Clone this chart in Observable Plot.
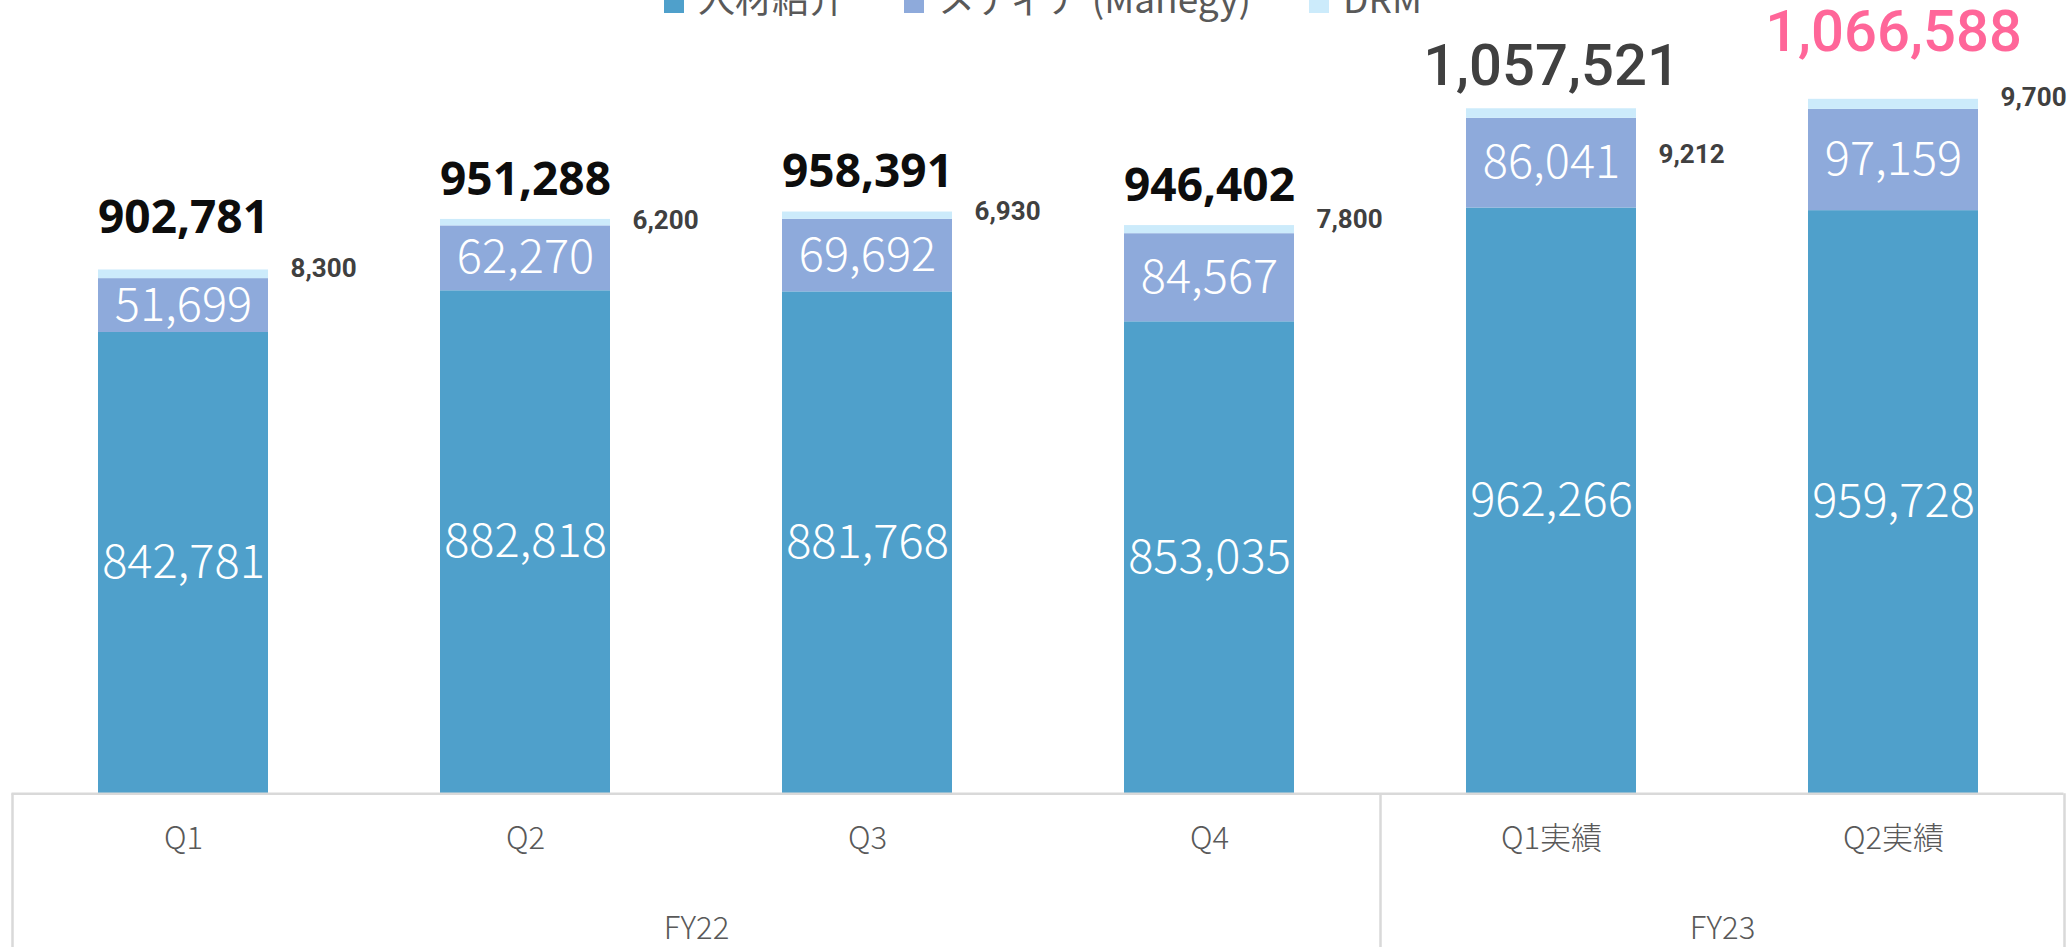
<!DOCTYPE html>
<html><head><meta charset="utf-8">
<script src="https://cdn.jsdelivr.net/npm/d3@7"></script>
<script src="https://cdn.jsdelivr.net/npm/@observablehq/plot@0.6"></script>
<style>
html,body{margin:0;padding:0;background:#fff;overflow:hidden;}
#wrap{position:relative;width:2067px;height:947px;}
#chart{position:absolute;left:0;top:0;}
#legend{position:absolute;left:664px;top:-23px;display:flex;font-family:"Noto Sans CJK JP";font-size:37px;line-height:40px;color:#595959;white-space:nowrap;z-index:2;}
#legend .item{margin-right:58px;}
#legend .sw{display:inline-block;width:20px;height:20px;margin-right:14px;vertical-align:baseline;}
</style></head>
<body><div id="wrap"><div id="chart"></div><div id="legend"></div></div>
<script>
// ---- data ----
const periods = ["Q1", "Q2", "Q3", "Q4", "Q1実績", "Q2実績"];
const fiscalYears = ["FY22", "FY22", "FY22", "FY22", "FY23", "FY23"];
const seriesNames = ["人材紹介", "メディア (Manegy)", "DRM"];
const seriesColors = ["#4FA0CB", "#8EAADB", "#CCEBFB"];
const jinzai = [842781, 882818, 881768, 853035, 962266, 959728];
const media = [51699, 62270, 69692, 84567, 86041, 97159];
const drm = [8300, 6200, 6930, 7800, 9212, 9700];
const totals = [902781, 951288, 958391, 946402, 1057521, 1066588];

// ---- layout ----
const W = 2067, H = 947;
const mL = 11.5, mR = 3.5, mT = 64, mB = 153.7;
const yMin = 400000, yMax = 1100000;
const step = (W - mL - mR) / periods.length;
const barW = 170;
const inset = (step - barW) / 2;
const fmt = d3.format(",");
const numFont = "Noto Sans CJK JP";
const boldFont = "Noto Sans";

const rows = [];
periods.forEach((p, i) => {
  [jinzai, media, drm].forEach((arr, k) => rows.push({period: p, series: seriesNames[k], value: arr[i]}));
});
const items = periods.map((p, i) => ({
  period: p, fy: fiscalYears[i], j: jinzai[i], m: media[i], d: drm[i],
  total: totals[i], top: jinzai[i] + media[i] + drm[i], i
}));

// per-label fine offsets (pixels) as placed in the original
const totalDy = {"Q1": -37, "Q2": -24, "Q3": -25, "Q4": -25, "Q1実績": -24, "Q2実績": -48};
const drmDy = {"Q1": -1, "Q2": 1, "Q3": 0, "Q4": -6, "Q1実績": 46, "Q2実績": -2};

const totalMarks = items.map(d => {
  const fy23 = d.fy === "FY23";
  return Plot.text([d], {
    x: "period", y: "top", text: dd => fmt(dd.total),
    lineAnchor: "bottom", dy: totalDy[d.period],
    fontSize: fy23 ? 58 : 46,
    fontWeight: fy23 ? 500 : 700,
    fontFamily: fy23 ? "Roboto" : boldFont,
    fill: d.period === "Q2実績" ? "#FF6699" : (fy23 ? "#404040" : "#0d0d0d"),
    style: fy23 ? "letter-spacing:-2px" : undefined
  });
});
const drmMarks = items.map(d => Plot.text([d], {
  x: "period", y: "top", text: dd => fmt(dd.d),
  textAnchor: "start", dx: barW / 2 + 22, dy: drmDy[d.period],
  fontSize: 26, fontWeight: 700, fontFamily: "Roboto", fill: "#404040"
}));

// group boundaries
const groupStarts = items.filter((d, i) => i === 0 || fiscalYears[i - 1] !== d.fy);
const lastItem = items[items.length - 1];
const fyGroups = Array.from(d3.group(items, d => d.fy), ([fy, arr]) => ({fy, anchor: arr[Math.floor((arr.length - 1) / 2)].period, even: arr.length % 2 === 0}));

const chart = Plot.plot({
  width: W, height: H,
  marginLeft: mL, marginRight: mR, marginTop: mT, marginBottom: mB,
  x: {domain: periods, padding: 0, axis: null},
  y: {domain: [yMin, yMax], axis: null},
  color: {domain: seriesNames, range: seriesColors},
  style: {background: "transparent", overflow: "visible"},
  marks: [
    Plot.barY(rows, {x: "period", y: "value", fill: "series", order: seriesNames, insetLeft: inset, insetRight: inset, clip: true}),
    Plot.ruleY([yMin], {stroke: "#d9d9d9", strokeWidth: 2.5}),
    Plot.ruleX(groupStarts, {x: "period", y1: yMin, y2: 0, dx: -step / 2, stroke: "#d9d9d9", strokeWidth: 2.5}),
    Plot.ruleX([lastItem], {x: "period", y1: yMin, y2: 0, dx: step / 2, stroke: "#d9d9d9", strokeWidth: 2.5}),
    Plot.text(items, {x: "period", y: d => (yMin + d.j) / 2, text: d => fmt(d.j), fill: "white", fontSize: 47, fontWeight: 300, fontFamily: numFont}),
    Plot.text(items, {x: "period", y: d => d.j + d.m / 2, text: d => fmt(d.m), fill: "white", fontSize: 47, fontWeight: 300, fontFamily: numFont}),
    ...totalMarks,
    ...drmMarks,
    Plot.text(items, {x: "period", frameAnchor: "bottom", dy: 55, text: "period", fontSize: 31, fontWeight: 300, fontFamily: numFont, fill: "#595959"}),
    ...fyGroups.map(g => Plot.text([g], {x: "anchor", frameAnchor: "bottom", dy: 145, dx: g.even ? step / 2 : 0, text: "fy", fontSize: 31, fontWeight: 300, fontFamily: numFont, fill: "#595959"}))
  ]
});
document.getElementById("chart").appendChild(chart);

// legend
const lg = document.getElementById("legend");
seriesNames.forEach((name, k) => {
  const it = document.createElement("span");
  it.className = "item";
  const sw = document.createElement("span");
  sw.className = "sw";
  sw.style.background = seriesColors[k];
  it.appendChild(sw);
  it.appendChild(document.createTextNode(name));
  lg.appendChild(it);
});
</script>
</body></html>
